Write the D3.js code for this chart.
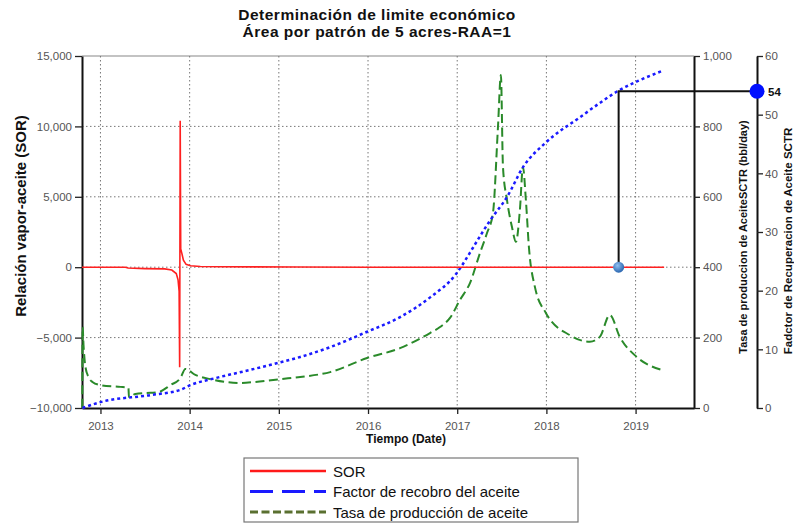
<!DOCTYPE html>
<html><head><meta charset="utf-8">
<script src="https://cdn.jsdelivr.net/npm/d3@7"></script>
<style>
body{margin:0;background:#fff;}
svg{display:block;font-family:"Liberation Sans",Arial,sans-serif;}
</style></head>
<body><svg id="c" width="794" height="523"></svg>
<script>
// ---- data ----
const titleLines = ["Determinación de limite económico", "Área por patrón de 5 acres-RAA=1"];
const yearTicks = [2013, 2014, 2015, 2016, 2017, 2018, 2019];
const sorTicks = [-10000, -5000, 0, 5000, 10000, 15000];
const tasaTicks = [0, 200, 400, 600, 800, 1000];
const factorTicks = [0, 10, 20, 30, 40, 50, 60];

const sorYears = [2012.793, 2013.28, 2013.31, 2013.5, 2013.72, 2013.80, 2013.85, 2013.87, 2013.882, 2013.888, 2013.894, 2013.900, 2013.912, 2013.93, 2013.96, 2014.01, 2014.12, 2014.35, 2015.2, 2016.0, 2019.32];
const sorValues = [0, 0, -60, -100, -120, -200, -450, -900, -1700, -7100, 10400, 1300, 1000, 500, 200, 100, 50, 30, 10, 0, 0];

const factorYears = [2012.798, 2013.0, 2013.56, 2013.896, 2014.008, 2014.29, 2014.68, 2015.02, 2015.24, 2015.58, 2015.99, 2016.36, 2016.70, 2016.98, 2017.14, 2017.18, 2017.37, 2017.56, 2017.74, 2017.99, 2018.38, 2018.60, 2018.82, 2019.05, 2019.29];
const factorValues = [0, 1.0, 2.2, 3.1, 3.9, 5.1, 6.5, 7.8, 8.7, 10.4, 13.0, 15.5, 18.9, 22.7, 26.4, 27.4, 32.0, 36.0, 41.1, 45.2, 49.6, 52.0, 54.2, 55.9, 57.4];

const tasaYears = [2012.796, 2012.800, 2012.810, 2012.832, 2012.866, 2012.910, 2013.000, 2013.224, 2013.314, 2013.319, 2013.392, 2013.560, 2013.650, 2013.784, 2013.896, 2013.952, 2014.064, 2014.232, 2014.400, 2014.568, 2014.736, 2015.016, 2015.240, 2015.576, 2015.990, 2016.359, 2016.695, 2016.807, 2016.919, 2017.031, 2017.143, 2017.255, 2017.334, 2017.401, 2017.457, 2017.490, 2017.513, 2017.558, 2017.614, 2017.659, 2017.703, 2017.737, 2017.770, 2017.804, 2017.871, 2017.994, 2018.263, 2018.487, 2018.599, 2018.711, 2018.823, 2019.013, 2019.293];
const tasaValues = [0, 230, 179, 116, 88, 74, 65, 60, 57, 31, 40, 43, 45, 65, 85, 111, 94, 82, 74, 71, 74, 82, 88, 102, 142, 170, 213, 230, 256, 307, 355, 440, 497, 554, 798, 946, 685, 591, 514, 472, 563, 685, 591, 457, 344, 270, 207, 188, 202, 264, 202, 145, 108];

const limitYear = 2018.81;
const limitFactor = 54;

const legendLabels = ["SOR", "Factor de recobro del aceite", "Tasa de producción de aceite"];
const axisTitles = {left: "Relación vapor-aceite (SOR)", right1: "Tasa de produccion de AceiteSCTR (bbl/day)", right2: "Fadctor de Recuperacion de Aceite SCTR", bottom: "Tiempo (Date)"};

// ---- layout ----
const L = 82, R = 694, T = 56, B = 408, R2 = 757;
const svg = d3.select("#c");
const x = d3.scaleLinear().domain([2012.793, 2019.655]).range([L, R]);
const ySor = d3.scaleLinear().domain([-10000, 15000]).range([B, T]);
const yTasa = d3.scaleLinear().domain([0, 1000]).range([B, T]);
const yFac = d3.scaleLinear().domain([0, 60]).range([B, T]);

// title
svg.append("g").selectAll("text").data(titleLines).join("text")
  .attr("x", 377).attr("y", (d, i) => 20 + i * 17)
  .attr("text-anchor", "middle").attr("font-size", 15.5).attr("font-weight", "bold")
  .attr("letter-spacing", 0.5).attr("fill", "#111")
  .text(d => d);

// top border
svg.append("line").attr("x1", L).attr("x2", R).attr("y1", T).attr("y2", T).attr("stroke", "#888").attr("stroke-width", 1.2);

// grid
const grid = svg.append("g").attr("stroke", "#777").attr("stroke-width", 1).attr("stroke-dasharray", "1.5,2.5");
grid.selectAll(".v").data(yearTicks).join("line").attr("class", "v")
  .attr("x1", d => x(d)).attr("x2", d => x(d)).attr("y1", T).attr("y2", B);
grid.selectAll(".h").data(sorTicks.filter(d => d > -10000 && d < 15000)).join("line").attr("class", "h")
  .attr("x1", L).attr("x2", R).attr("y1", d => ySor(d)).attr("y2", d => ySor(d));

// axes
function styleAxis(g) {
  g.selectAll(".tick text").attr("fill", "#555").attr("font-size", 11.5).attr("font-family", '"Liberation Sans",Arial,sans-serif');
  g.selectAll(".tick line").attr("stroke", "#222").attr("stroke-width", 1.3);
  g.select(".domain").attr("stroke", "#111").attr("stroke-width", 2);
}
svg.append("g").attr("transform", `translate(${L},0)`)
  .call(d3.axisLeft(ySor).tickValues(sorTicks).tickFormat(d3.format(",")).tickSize(7).tickSizeOuter(0).tickPadding(3))
  .call(styleAxis);
svg.append("g").attr("transform", `translate(0,${B})`)
  .call(d3.axisBottom(x).tickValues(yearTicks).tickFormat(d3.format("d")).tickSize(6).tickSizeOuter(0).tickPadding(8))
  .call(styleAxis);
svg.append("g").attr("transform", `translate(${R},0)`)
  .call(d3.axisRight(yTasa).tickValues(tasaTicks).tickFormat(d3.format(",")).tickSize(6).tickSizeOuter(0).tickPadding(3))
  .call(styleAxis);
svg.append("g").attr("transform", `translate(${R2},0)`)
  .call(d3.axisRight(yFac).tickValues(factorTicks).tickSize(6).tickSizeOuter(0).tickPadding(2))
  .call(styleAxis);

// axis titles
svg.append("text").attr("transform", "translate(26,216) rotate(-90)").attr("text-anchor", "middle")
  .attr("font-size", 15).attr("font-weight", "bold").attr("fill", "#111").text(axisTitles.left);
svg.append("text").attr("transform", "translate(747,237) rotate(-90)").attr("text-anchor", "middle")
  .attr("font-size", 11).attr("font-weight", "bold").attr("fill", "#111").text(axisTitles.right1);
svg.append("text").attr("transform", "translate(792,241) rotate(-90)").attr("text-anchor", "middle")
  .attr("font-size", 11.5).attr("font-weight", "bold").attr("fill", "#111").text(axisTitles.right2);
svg.append("text").attr("x", 406).attr("y", 443).attr("text-anchor", "middle")
  .attr("font-size", 12).attr("font-weight", "bold").attr("fill", "#111").text(axisTitles.bottom);

// series
const sorData = sorYears.map((t, i) => [t, sorValues[i]]);
const facData = factorYears.map((t, i) => [t, factorValues[i]]);
const tasaData = tasaYears.map((t, i) => [t, tasaValues[i]]);

svg.append("path").datum(tasaData)
  .attr("d", d3.line().x(d => x(d[0])).y(d => yTasa(d[1])).curve(d3.curveMonotoneX))
  .attr("fill", "none").attr("stroke", "#2a8a2a").attr("stroke-width", 2).attr("stroke-dasharray", "9,4.5");
svg.append("path").datum(facData)
  .attr("d", d3.line().x(d => x(d[0])).y(d => yFac(d[1])).curve(d3.curveMonotoneX))
  .attr("fill", "none").attr("stroke", "#1a1aff").attr("stroke-width", 2.5).attr("stroke-dasharray", "3,3");
svg.append("path").datum(sorData)
  .attr("d", d3.line().x(d => x(d[0])).y(d => ySor(d[1])))
  .attr("fill", "none").attr("stroke", "#ff2020").attr("stroke-width", 1.6);

// economic limit marker
const mx = x(limitYear), my = ySor(0), fy = yFac(limitFactor);
svg.append("path").attr("d", `M${mx},${my}V${fy}H${R2}`).attr("fill", "none").attr("stroke", "#111").attr("stroke-width", 2);
const defs = svg.append("defs");
const gr = defs.append("radialGradient").attr("id", "gb").attr("cx", "40%").attr("cy", "35%").attr("r", "65%");
gr.append("stop").attr("offset", "0%").attr("stop-color", "#8fbff0");
gr.append("stop").attr("offset", "100%").attr("stop-color", "#2a66b0");
svg.append("circle").attr("cx", mx).attr("cy", my).attr("r", 5.5).attr("fill", "url(#gb)");
svg.append("circle").attr("cx", R2).attr("cy", fy).attr("r", 7.5).attr("fill", "#0010ff");
svg.append("text").attr("x", 768).attr("y", fy + 4.5).attr("font-size", 11.5).attr("font-weight", "bold").attr("fill", "#111").text(limitFactor);

// legend
const lg = svg.append("g");
lg.append("rect").attr("x", 244).attr("y", 458).attr("width", 334).attr("height", 64)
  .attr("fill", "#fff").attr("stroke", "#777").attr("stroke-width", 1.2);
const legStyles = [
  {c: "#ff1a1a", d: null, w: 2.5},
  {c: "#1a1aff", d: "23,9", w: 3},
  {c: "#5a7030", d: "8,3.5", w: 3}
];
legendLabels.forEach((lab, i) => {
  const yy = 471 + i * 20.5;
  const ln = lg.append("line").attr("x1", 250).attr("x2", 326).attr("y1", yy).attr("y2", yy)
    .attr("stroke", legStyles[i].c).attr("stroke-width", legStyles[i].w);
  if (legStyles[i].d) ln.attr("stroke-dasharray", legStyles[i].d);
  lg.append("text").attr("x", 333).attr("y", yy + 5.5).attr("font-size", 15).attr("fill", "#111").text(lab);
});
</script></body></html>
